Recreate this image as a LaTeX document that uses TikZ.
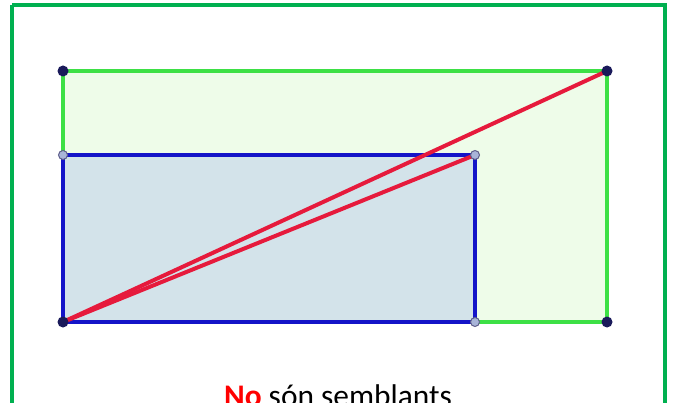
\documentclass[tikz,border=0pt]{standalone}
\usepackage{fontspec}
\setmainfont{Carlito}
\definecolor{framegreen}{HTML}{00B050}
\definecolor{rgreen}{HTML}{3DE045}
\definecolor{rgfill}{HTML}{EEFCE9}
\definecolor{rblue}{HTML}{1414C8}
\definecolor{rbfill}{HTML}{D3E3EA}
\definecolor{rred}{HTML}{E61A3C}
\definecolor{dotdark}{HTML}{1A1A5A}
\definecolor{dotlight}{HTML}{A8B4D8}
\tikzset{
  darkdot/.style={circle,fill=dotdark,inner sep=0pt,minimum size=11pt},
  lightdot/.style={circle,draw=dotdark!70,fill=dotlight,line width=1pt,inner sep=0pt,minimum size=9pt},
  greenside/.style={draw=rgreen,line width=3.5pt},
  blueside/.style={draw=rblue,line width=4pt},
  redline/.style={draw=rred,line width=4pt,line cap=round}
}
\begin{document}
\begin{tikzpicture}[x=1pt,y=-1pt]
\useasboundingbox (0,0) rectangle (676,403);
\fill[white] (0,0) rectangle (676,403);
% frame
\draw[framegreen,line width=4pt] (12,5) -- (665,5) -- (665,420) (12,5) -- (12,420);
% coordinates
\coordinate (A) at (63,71);
\coordinate (B) at (607,71);
\coordinate (C) at (607,322);
\coordinate (D) at (63,322);
\coordinate (E) at (63,155);
\coordinate (F) at (475,155);
\coordinate (G) at (475,322);
% green rectangle
\fill[rgfill] (A) rectangle (C);
\draw[greenside] (A) -- (B) -- (C) -- (D) -- cycle;
% blue rectangle
\fill[rbfill] (E) rectangle (G);
\draw[blueside] (E) -- (F) -- (G) -- (D) -- cycle;
% red diagonals
\draw[redline] (D) -- (B);
\draw[redline] (D) -- (F);
% points
\node[darkdot] (pA) at (A) {};
\node[darkdot] (pB) at (B) {};
\node[darkdot] (pC) at (C) {};
\node[darkdot] (pD) at (D) {};
\node[lightdot] (pE) at (E) {};
\node[lightdot] (pF) at (F) {};
\node[lightdot] (pG) at (G) {};
% caption (cut by the lower edge, as in the reference)
\node[anchor=base,inner sep=0pt,font=\fontsize{31.4}{36}\selectfont] (cap) at (338,406)
  {\textcolor{red}{\textbf{No}} són semblants};
\end{tikzpicture}
\end{document}
